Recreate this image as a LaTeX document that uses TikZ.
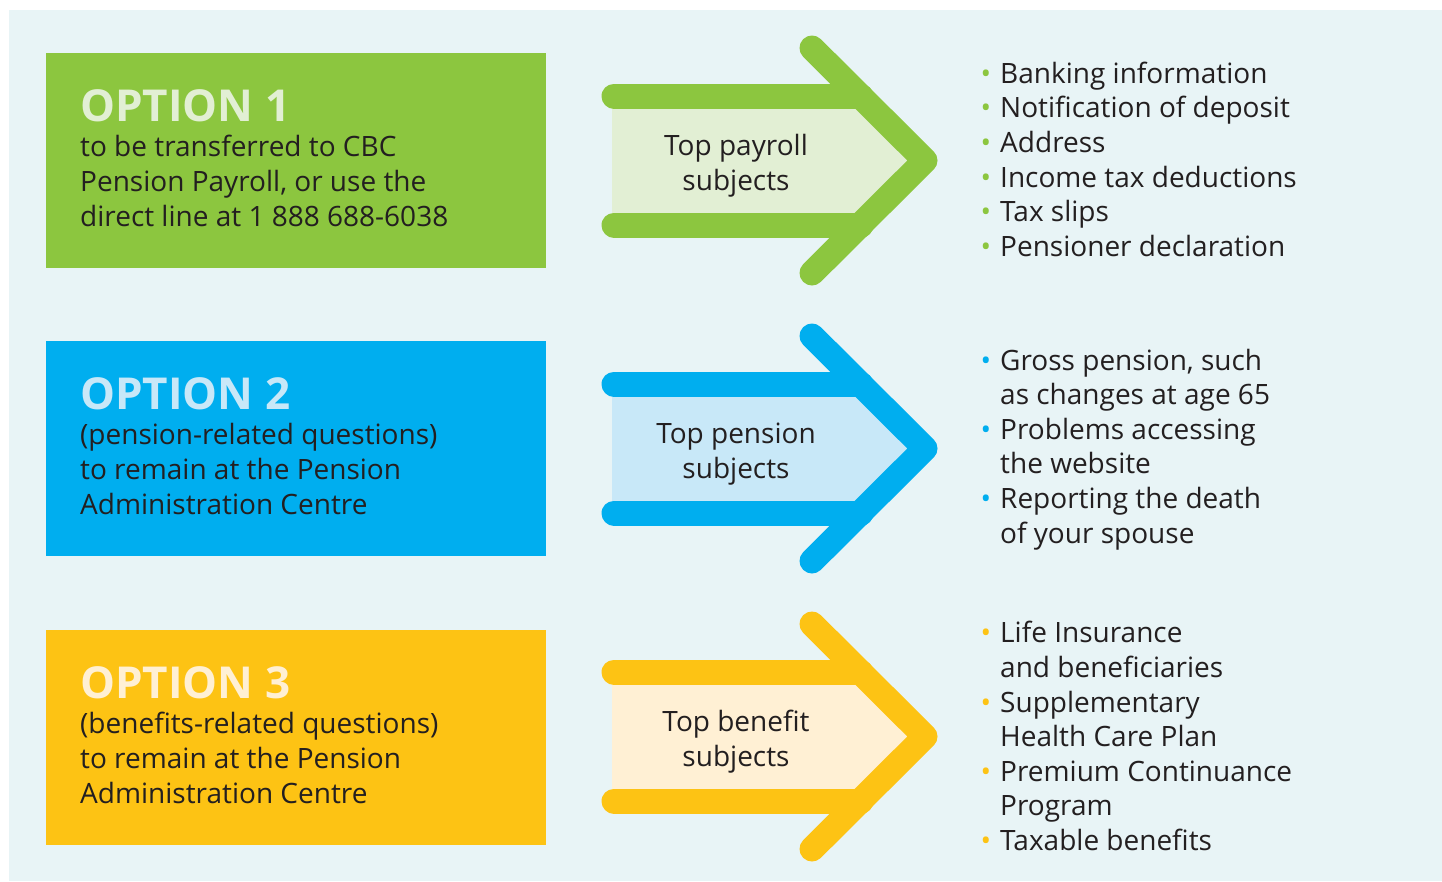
\documentclass[tikz,border=0pt]{standalone}
\usepackage{fontspec}
\setmainfont{Open Sans}
\usepackage{xcolor}
\usetikzlibrary{positioning}

\definecolor{optgreen}{HTML}{8CC63F}
\definecolor{optblue}{HTML}{00AEEF}
\definecolor{optyellow}{HTML}{FDC314}
\definecolor{palegreen}{HTML}{E2EFD4}
\definecolor{paleblue}{HTML}{C8E8F8}
\definecolor{paleyellow}{HTML}{FFF0D4}
\definecolor{bgblue}{HTML}{E8F4F6}
\definecolor{inkgrey}{HTML}{231F20}

\newcommand{\listdot}[1]{\llap{\textcolor{#1}{•}\hspace{9pt}}}

\begin{document}
\begin{tikzpicture}[x=1pt,y=-1pt]
    \tikzstyle{optbox} = [anchor=north west, rectangle, inner sep=0pt, minimum width=500pt, minimum height=215pt]
    \tikzstyle{opthead} = [inner sep=0pt, font=\fontsize{44}{44}\selectfont\bfseries]
    \tikzstyle{opttext} = [inner sep=0pt, align=left, text=inkgrey, font=\fontsize{28}{35}\selectfont]
    \tikzstyle{arrtext} = [inner sep=0pt, align=center, text=inkgrey, font=\fontsize{28}{35}\selectfont]
    \tikzstyle{listtext} = [anchor=north west, inner sep=0pt, align=left, text=inkgrey, font=\fontsize{28}{34.6}\selectfont]
    \tikzstyle{arrline} = [line width=25pt, line cap=round, line join=round]
    \useasboundingbox (0,0) rectangle (1442,881);
    \fill[bgblue] (9,10) rectangle (1442,881);

    % the three arrows
    \foreach \r/\c/\p in {0/optgreen/palegreen, 288/optblue/paleblue, 576/optyellow/paleyellow}{
        \begin{scope}[shift={(0,\r)}]
            \fill[\p] (612,96) -- (861,96) -- (925,160.5) -- (861,225) -- (612,225) -- cycle;
            \draw[\c, arrline] (614,96) -- (861,96);
            \draw[\c, arrline] (614,225) -- (861,225);
            \draw[\c, arrline] (812,48) -- (925,160.5) -- (812,273);
        \end{scope}
    }

    % option boxes
    \node (opt1) [optbox, fill=optgreen] at (46,53) {};
    \node (opt2) [optbox, fill=optblue] at (46,341) {};
    \node (opt3) [optbox, fill=optyellow] at (46,630) {};

    \node (head1) [opthead, below right=36.5pt and 34pt of opt1.north west, text=palegreen] {OPTION 1};
    \node (head2) [opthead, below right=36.5pt and 34pt of opt2.north west, text=paleblue] {OPTION 2};
    \node (head3) [opthead, below right=36.5pt and 34pt of opt3.north west, text=paleyellow] {OPTION 3};

    \node (body1) [opttext, below right=12.7pt and 0pt of head1.south west] {to be transferred to CBC\\Pension Payroll, or use the\\direct line at 1 888 688-6038};
    \node (body2) [opttext, below right=12.7pt and 0pt of head2.south west] {(pension-related questions)\\to remain at the Pension\\Administration Centre};
    \node (body3) [opttext, below right=12.7pt and 0pt of head3.south west] {(benefits-related questions)\\to remain at the Pension\\Administration Centre};

    % arrow labels
    \node (pay) [arrtext] at (736,166) {Top payroll\\subjects};
    \node (pen) [arrtext] at (736,454) {Top pension\\subjects};
    \node (ben) [arrtext] at (736,742) {Top benefit\\subjects};

    % subject lists
    \node (list1) [listtext] at (1000,61.7) {\listdot{optgreen}Banking information\\\listdot{optgreen}Notification of deposit\\\listdot{optgreen}Address\\\listdot{optgreen}Income tax deductions\\\listdot{optgreen}Tax slips\\\listdot{optgreen}Pensioner declaration};
    \node (list2) [listtext] at (1000,348.7) {\listdot{optblue}Gross pension, such\\as changes at age 65\\\listdot{optblue}Problems accessing\\the website\\\listdot{optblue}Reporting the death\\of your spouse};
    \node (list3) [listtext] at (1000,621.2) {\listdot{optyellow}Life Insurance\\and beneficiaries\\\listdot{optyellow}Supplementary\\Health Care Plan\\\listdot{optyellow}Premium Continuance\\Program\\\listdot{optyellow}Taxable benefits};
\end{tikzpicture}
\end{document}
